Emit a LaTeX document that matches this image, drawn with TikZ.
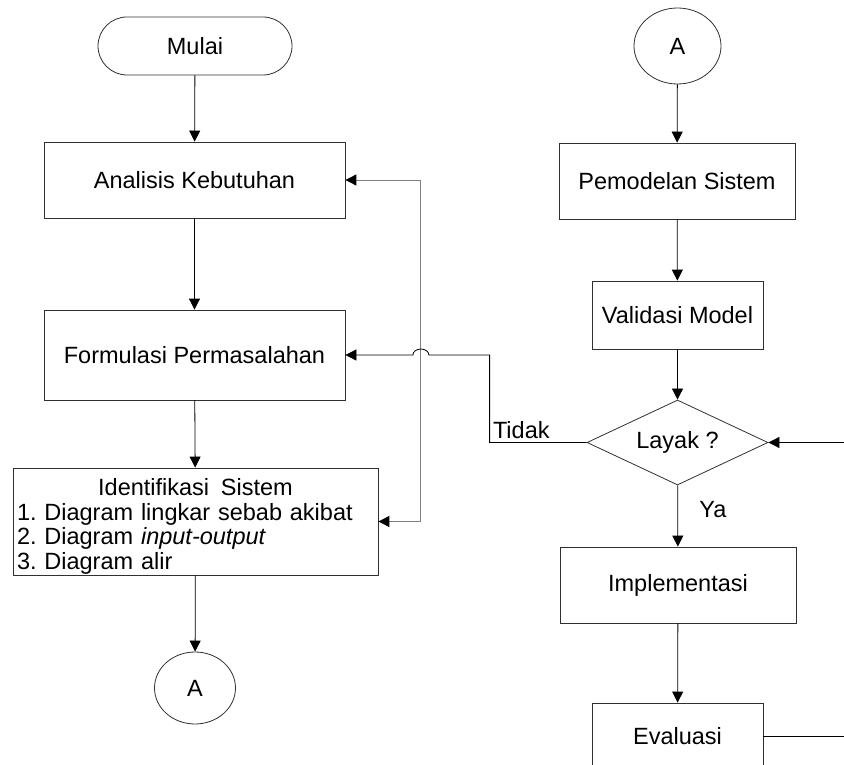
\documentclass[tikz,border=0pt]{standalone}
\usepackage{fontspec}
\setmainfont{Liberation Sans}
\usetikzlibrary{positioning, arrows.meta, shapes.geometric, calc}
\definecolor{garis}{HTML}{303030}
\definecolor{abu}{HTML}{808080}

\begin{document}
\begin{tikzpicture}[x=1pt,y=-1pt,font=\fontsize{23.5pt}{24.5pt}\selectfont\frenchspacing,
  proses/.style={draw=garis,line width=0.8pt,align=center,inner sep=0pt},
  terminal/.style={draw=garis,line width=0.8pt,rounded corners=29pt,
                   minimum width=194pt,minimum height=58pt},
  konektor/.style={draw=garis,line width=0.8pt,ellipse,inner sep=0pt},
  keputusan/.style={draw=garis,line width=0.8pt,diamond,aspect=2.13,inner sep=0pt,
                    minimum width=181pt,minimum height=85pt},
  panah/.style={line width=0.8pt,-{Triangle[length=11pt,width=11pt]}}]
  \useasboundingbox (0,0) rectangle (844,765);
  \clip (0,0) rectangle (844,765);
  % kolom kiri
  \node[terminal] (mulai) at (195,46) {Mulai};
  \node[proses,minimum width=301pt,minimum height=76pt] (analisis) at (194.5,180) {Analisis Kebutuhan};
  \node[proses,minimum width=301pt,minimum height=90pt] (formulasi) at (194.5,355) {Formulasi Permasalahan};
  \node[proses,minimum width=365pt,minimum height=107pt,text width=357pt,align=left] (identifikasi) at (195.5,521.5)
    {\makebox[357pt]{\rule{0pt}{27pt}Identifikasi\enspace Sistem}\\
     1. Diagram lingkar sebab akibat\\
     2. Diagram \textit{input-output}\\
     3. Diagram alir};
  \node[konektor,minimum width=81pt,minimum height=72pt] (konB) at (195,688) {A};
  % kolom kanan
  \node[konektor,minimum width=87pt,minimum height=76pt] (konA) at (677.5,46) {A};
  \node[proses,minimum width=236pt,minimum height=76pt] (pemodelan) at (677,181) {Pemodelan Sistem};
  \node[proses,minimum width=171pt,minimum height=68pt] (validasi) at (677.5,315) {Validasi Model};
  \node[keputusan] (layak) at (677.5,442.5) {Layak ?};
  \node[proses,minimum width=236pt,minimum height=76pt] (implementasi) at (678,585) {Implementasi};
  \node[proses,minimum width=171pt,minimum height=66pt] (evaluasi) at (677.5,736) {Evaluasi};
  \coordinate (masuk) at (846,442.5);
  \coordinate (keluar) at (846,736);
  \coordinate (tepi) at ($(analisis.east)+(75.5,0)$);
  \coordinate (belok) at ($(layak.west)+(-97,0)$);
  \coordinate (silang) at (tepi |- formulasi.east);

  \draw[panah] (mulai) -- (analisis);
  \draw[panah] (analisis) -- (formulasi);
  \draw[panah] (formulasi) -- (identifikasi);
  \draw[panah] (identifikasi) -- (konB);
  \draw[panah] (konA) -- (pemodelan);
  \draw[panah] (pemodelan) -- (validasi);
  \draw[panah] (validasi) -- (layak);
  \draw[panah] (layak) -- (implementasi) node[pos=0.4,right=18pt] {Ya};
  \draw[panah] (implementasi) -- (evaluasi);
  \draw[panah] (masuk) -- (layak.east);
  \draw[line width=0.8pt] (evaluasi.east) -- (keluar);
  \draw[abu,line width=0.9pt,{Triangle[length=11pt,width=11pt,color=black]}-{Triangle[length=11pt,width=11pt,color=black]}]
    (identifikasi.east) -| (tepi) -- (analisis.east);
  \draw[panah] (layak.west) -- (belok) node[anchor=south west,inner sep=3pt] {Tidak}
    |- ($(silang)+(8,0)$) arc[start angle=0,end angle=180,x radius=8pt,y radius=6pt]
    -- (formulasi.east);
\end{tikzpicture}
\end{document}
